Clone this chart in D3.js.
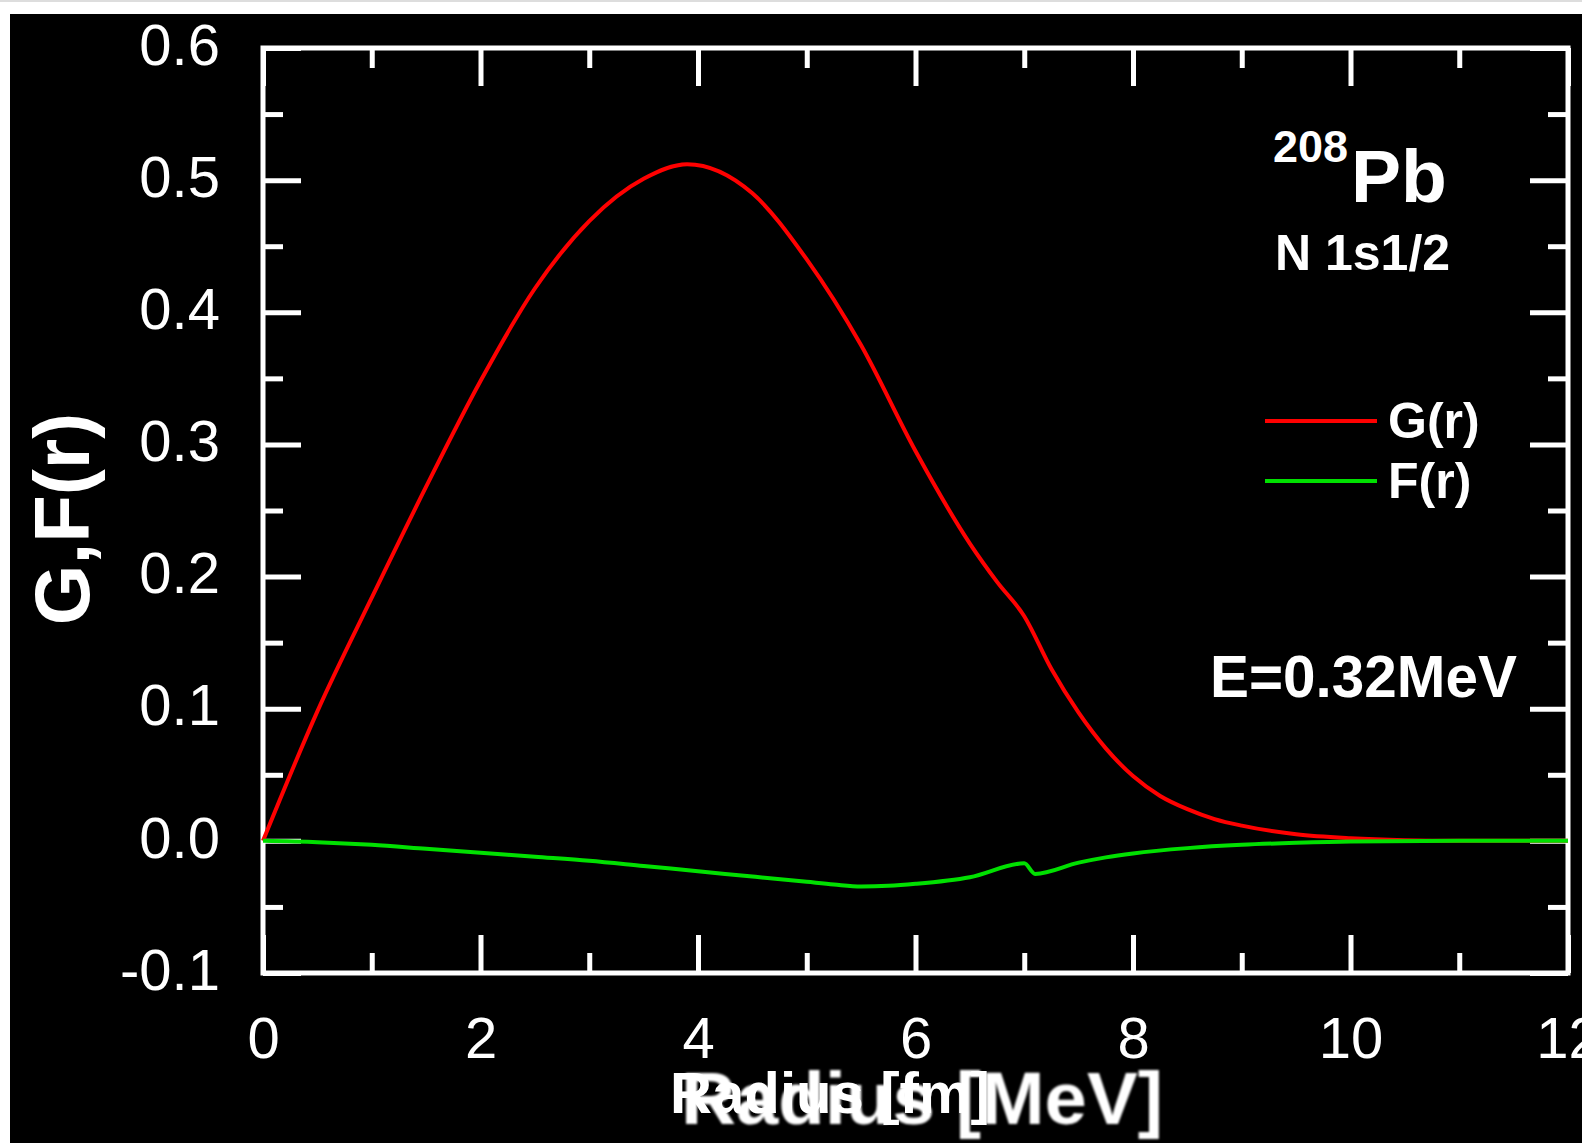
<!DOCTYPE html>
<html>
<head>
<meta charset="utf-8">
<script src="https://cdn.jsdelivr.net/npm/d3@7"></script>
<style>
	body { margin: 0; background: #fff; }
	svg text { font-family: 'Liberation Sans', Arial, sans-serif; fill: #fff; }
</style>
</head>
<body>
<div id="chart"></div>
<script>
// wave function values (r in fm)
let gRadius = [0, 0.5, 1, 1.5, 2, 2.5, 3, 3.5, 3.9, 4.5, 5, 5.5, 6, 6.5, 6.75, 7, 7.25, 7.5, 7.75, 8, 8.25, 8.5, 8.75, 9, 9.5, 10, 10.5, 11, 12]
let gValues = [0, 0.098, 0.184, 0.268, 0.348, 0.418, 0.469, 0.501, 0.512, 0.49, 0.44, 0.375, 0.295, 0.225, 0.196, 0.17, 0.13, 0.097, 0.07, 0.049, 0.034, 0.024, 0.0165, 0.0115, 0.005, 0.002, 0.0005, 0, 0]

let fRadius = [0, 0.5, 1, 1.5, 2, 2.5, 3, 3.5, 4, 4.5, 5, 5.25, 5.5, 5.75, 6, 6.5, 7, 7.1, 7.5, 7.75, 8, 8.5, 9, 9.5, 10, 11, 12]
let fValues = [0, -0.001, -0.003, -0.006, -0.009, -0.012, -0.015, -0.019, -0.023, -0.027, -0.031, -0.033, -0.0345, -0.034, -0.0325, -0.0275, -0.017, -0.025, -0.0165, -0.0125, -0.0095, -0.0055, -0.003, -0.0015, -0.0005, 0, 0]

let xMajorTicks = [0, 2, 4, 6, 8, 10, 12]
let xMinorTicks = [1, 3, 5, 7, 9, 11]
let yMajorTicks = [-0.1, 0, 0.1, 0.2, 0.3, 0.4, 0.5, 0.6]
let yMinorTicks = [-0.05, 0.05, 0.15, 0.25, 0.35, 0.45, 0.55]

let seriesNames = ['G(r)', 'F(r)']
let seriesColors = ['#ff0000', '#00e000']
let massNumber = '208'
let element = 'Pb'
let stateLabel = 'N 1s1/2'
let energyLabel = 'E=0.32MeV'
let xTitleBack = 'Radius [MeV]'
let xTitleFront = 'Radius [fm]'
let yTitle = 'G,F(r)'

let W = 1588
let H = 1143
let plotL = 263, plotR = 1568, plotT = 48, plotB = 973
let majorLen = 38
let minorLen = 20
let strokeWidth = 5

let svg = d3
	.select('#chart')
	.append('svg:svg')
	.attr('width', W)
	.attr('height', H)
	.style('display', 'block')

// soft blur for the old (scanned) title underneath
svg.append('defs')
	.append('filter')
	.attr('id', 'soft')
	.append('feGaussianBlur')
	.attr('stdDeviation', 1.3)

// black picture area inside a thin white border
svg.append('svg:rect').attr('x', 0).attr('y', 0).attr('width', W).attr('height', 2).attr('fill', '#ddd')
svg.append('svg:rect').attr('x', 10).attr('y', 14).attr('width', 1572).attr('height', H - 14).attr('fill', '#000')

let x = d3.scaleLinear().domain([0, 12]).range([plotL, plotR])
let y = d3.scaleLinear().domain([-0.1, 0.6]).range([plotB, plotT])

let styleAxis = g => {
	g.select('.domain').remove()
	g.selectAll('line').attr('stroke', '#fff').attr('stroke-width', strokeWidth)
	g.selectAll('text').attr('fill', '#fff').attr('font-size', 58)
}

let fmtY = d => d3.format('.1f')(d).replace('\u2212', '-')

// bottom axis with labels
svg.append('g')
	.attr('transform', `translate(0,${plotB})`)
	.call(d3.axisBottom(x).tickValues(xMajorTicks).tickSizeInner(-majorLen).tickSizeOuter(0).tickPadding(44).tickFormat(d3.format('d')))
	.call(styleAxis)
svg.append('g')
	.attr('transform', `translate(0,${plotB})`)
	.call(d3.axisBottom(x).tickValues(xMinorTicks).tickSizeInner(-minorLen).tickSizeOuter(0).tickFormat(() => ''))
	.call(styleAxis)

// top axis, ticks only
svg.append('g')
	.attr('transform', `translate(0,${plotT})`)
	.call(d3.axisTop(x).tickValues(xMajorTicks).tickSizeInner(-majorLen).tickSizeOuter(0).tickFormat(() => ''))
	.call(styleAxis)
svg.append('g')
	.attr('transform', `translate(0,${plotT})`)
	.call(d3.axisTop(x).tickValues(xMinorTicks).tickSizeInner(-minorLen).tickSizeOuter(0).tickFormat(() => ''))
	.call(styleAxis)

// left axis with labels
svg.append('g')
	.attr('transform', `translate(${plotL},0)`)
	.call(d3.axisLeft(y).tickValues(yMajorTicks).tickSizeInner(-majorLen).tickSizeOuter(0).tickPadding(43).tickFormat(fmtY))
	.call(styleAxis)
	.call(g => g.selectAll('text').attr('dy', '0.28em'))
svg.append('g')
	.attr('transform', `translate(${plotL},0)`)
	.call(d3.axisLeft(y).tickValues(yMinorTicks).tickSizeInner(-minorLen).tickSizeOuter(0).tickFormat(() => ''))
	.call(styleAxis)

// right axis, ticks only
svg.append('g')
	.attr('transform', `translate(${plotR},0)`)
	.call(d3.axisRight(y).tickValues(yMajorTicks).tickSizeInner(-majorLen).tickSizeOuter(0).tickFormat(() => ''))
	.call(styleAxis)
svg.append('g')
	.attr('transform', `translate(${plotR},0)`)
	.call(d3.axisRight(y).tickValues(yMinorTicks).tickSizeInner(-minorLen).tickSizeOuter(0).tickFormat(() => ''))
	.call(styleAxis)

// frame
svg.append('svg:rect')
	.attr('x', plotL)
	.attr('y', plotT)
	.attr('width', plotR - plotL)
	.attr('height', plotB - plotT)
	.attr('fill', 'none')
	.attr('stroke', '#fff')
	.attr('stroke-width', strokeWidth)

// curves
let line = d3.line()
	.x(d => x(d[0]))
	.y(d => y(d[1]))
	.curve(d3.curveMonotoneX)

let series = [
	d3.zip(gRadius, gValues),
	d3.zip(fRadius, fValues)
]

series.forEach((pts, i) => {
	svg.append('svg:path')
		.datum(pts)
		.attr('d', line)
		.attr('fill', 'none')
		.attr('stroke', seriesColors[i])
		.attr('stroke-width', 4)
		.attr('stroke-linejoin', 'round')
})

// annotations
svg.append('svg:text')
	.attr('x', 1273).attr('y', 162)
	.attr('font-size', 45).attr('font-weight', 'bold')
	.text(massNumber)
svg.append('svg:text')
	.attr('x', 1351).attr('y', 202)
	.attr('font-size', 75).attr('font-weight', 'bold')
	.text(element)
svg.append('svg:text')
	.attr('x', 1275).attr('y', 270)
	.attr('font-size', 50).attr('font-weight', 'bold')
	.text(stateLabel)
svg.append('svg:text')
	.attr('x', 1210).attr('y', 697)
	.attr('font-size', 60).attr('font-weight', 'bold')
	.attr('textLength', 307).attr('lengthAdjust', 'spacingAndGlyphs')
	.text(energyLabel)

// legend
let legendY = [421, 481]
seriesNames.forEach((name, i) => {
	svg.append('svg:line')
		.attr('x1', 1265).attr('x2', 1377)
		.attr('y1', legendY[i]).attr('y2', legendY[i])
		.attr('stroke', seriesColors[i])
		.attr('stroke-width', 4)
	svg.append('svg:text')
		.attr('x', 1388).attr('y', legendY[i] + 17)
		.attr('font-size', 50).attr('font-weight', 'bold')
		.text(name)
})

// axis titles
svg.append('svg:text')
	.attr('transform', 'translate(89,519) rotate(-90)')
	.attr('text-anchor', 'middle')
	.attr('font-size', 78).attr('font-weight', 'bold')
	.text(yTitle)

svg.append('svg:text')
	.attr('x', 681).attr('y', 1124)
	.attr('font-size', 74).attr('font-weight', 'bold')
	.attr('textLength', 482).attr('lengthAdjust', 'spacingAndGlyphs')
	.attr('filter', 'url(#soft)')
	.text(xTitleBack)
svg.append('svg:text')
	.attr('x', 670).attr('y', 1113)
	.attr('font-size', 57).attr('font-weight', 'bold')
	.attr('textLength', 320).attr('lengthAdjust', 'spacingAndGlyphs')
	.text(xTitleFront)

// right border cuts the last tick label
svg.append('svg:rect').attr('x', 1582).attr('y', 0).attr('width', W - 1582).attr('height', H).attr('fill', '#fff')
</script>
</body>
</html>
